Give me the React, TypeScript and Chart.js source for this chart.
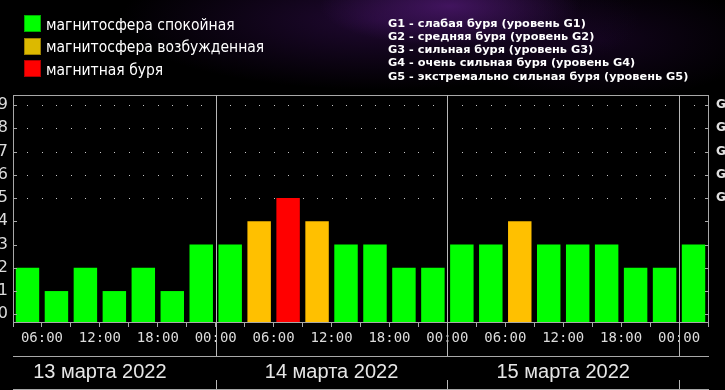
import React, { useEffect, useRef } from 'react';
import { Chart, registerables } from 'chart.js';

Chart.register(...registerables);

// ---- data ----
// Kp index per 3-hour interval, starting 13 March 2022 03:00
const KP_VALUES = [2, 1, 2, 1, 2, 1, 3, 3, 4, 5, 4, 3, 3, 2, 2, 3, 3, 4, 3, 3, 3, 2, 2, 3];
const TIME_TICK_LABELS = [
  '', '06:00', '', '12:00', '', '18:00', '', '00:00',
  '', '06:00', '', '12:00', '', '18:00', '', '00:00',
  '', '06:00', '', '12:00', '', '18:00', '', '00:00', '',
];
const DAY_LABELS = ['13 марта 2022', '14 марта 2022', '15 марта 2022'];
const DAY_CENTERS = [3, 11, 19];
const DAY_BOUNDARIES = [7, 15, 23];
const Y_TICKS = [0, 1, 2, 3, 4, 5, 6, 7, 8, 9];
const G_LEVELS = [5, 6, 7, 8, 9];
const G_AXIS_LABELS = ['G1', 'G2', 'G3', 'G4', 'G5'];
const LEGEND_LABELS = ['магнитосфера спокойная', 'магнитосфера возбужденная', 'магнитная буря'];
const LEGEND_COLORS = ['#00ff00', '#dcb900', '#ff0000'];
const LEGEND_BORDERS = ['#00b000', '#9a8000', '#b00000'];
const G_DESCRIPTIONS = [
  'G1 - слабая буря (уровень G1)',
  'G2 - средняя буря (уровень G2)',
  'G3 - сильная буря (уровень G3)',
  'G4 - очень сильная буря (уровень G4)',
  'G5 - экстремально сильная буря (уровень G5)',
];
const COLOR_QUIET = '#00ff00';
const COLOR_ACTIVE = '#ffc000';
const COLOR_STORM = '#ff0000';

const Y_MIN = -0.33;
const Y_MAX = 9.43;
const X_MIN = 0;
const X_MAX = 24;

const LINE = '#a8a8a8';
// the picture is a crop of a wider chart: the canvas overhangs the view on both sides
const CROP = 20;
const CANVAS_W = 725 + 2 * CROP;
const CANVAS_H = 390;

const barColor = (v: number) => (v >= 5 ? COLOR_STORM : v === 4 ? COLOR_ACTIVE : COLOR_QUIET);

const framePlugin = {
  id: 'frame',
  beforeDatasetsDraw(chart: any) {
    const { ctx, scales } = chart;
    const x = scales.x;
    const y = scales.y;
    ctx.save();
    ctx.fillStyle = '#c8c8c8';
    for (const lv of G_LEVELS) {
      const py = Math.round(y.getPixelForValue(lv));
      for (let k = 1; k < X_MAX * 2; k++) {
        const v = k / 2;
        if (DAY_BOUNDARIES.includes(v)) continue;
        ctx.fillRect(Math.round(x.getPixelForValue(v)), py, 1, 1);
      }
    }
    ctx.restore();
  },
  afterDraw(chart: any) {
    const { ctx, chartArea: a, scales } = chart;
    const x = scales.x;
    const y = scales.y;
    const c = (v: number) => Math.round(v) + 0.5;
    ctx.save();
    ctx.strokeStyle = LINE;
    ctx.lineWidth = 1;
    const hline = (x1: number, x2: number, yy: number) => {
      ctx.beginPath();
      ctx.moveTo(Math.round(x1), c(yy));
      ctx.lineTo(Math.round(x2) + 1, c(yy));
      ctx.stroke();
    };
    const vline = (xx: number, y1: number, y2: number) => {
      ctx.beginPath();
      ctx.moveTo(c(xx), Math.round(y1));
      ctx.lineTo(c(xx), Math.round(y2));
      ctx.stroke();
    };
    // plot frame
    hline(a.left, a.right, a.top);
    hline(a.left, a.right, a.bottom);
    vline(a.left, a.top, a.bottom + 1);
    vline(a.right, a.top, a.bottom + 4);
    // y tick marks (inside)
    for (const v of Y_TICKS) {
      const py = y.getPixelForValue(v);
      hline(a.left, a.left + 3, py);
      hline(a.right - 3, a.right, py);
    }
    // day separators
    const rowTop = 356;
    const rowBottom = 389;
    ctx.strokeStyle = '#b8b8b8';
    for (const b of DAY_BOUNDARIES) {
      const px = x.getPixelForValue(b);
      vline(px, a.top, rowTop);
      vline(px, 380, 390);
    }
    ctx.strokeStyle = LINE;
    hline(a.left, a.right, rowTop);
    hline(a.left, a.right, rowBottom);
    // date labels
    ctx.fillStyle = '#e6e6e6';
    ctx.font = '20px "Liberation Sans"';
    ctx.textAlign = 'center';
    ctx.textBaseline = 'alphabetic';
    DAY_LABELS.forEach((lbl, i) => {
      ctx.fillText(lbl, x.getPixelForValue(DAY_CENTERS[i]), 378);
    });
    // legend (left)
    ctx.textAlign = 'left';
    const rowsTop = [15, 38, 60];
    const rowsBase = [29.5, 52, 74.5];
    LEGEND_LABELS.forEach((lbl, i) => {
      ctx.fillStyle = LEGEND_COLORS[i];
      ctx.fillRect(CROP + 24, rowsTop[i], 17, 17);
      ctx.strokeStyle = LEGEND_BORDERS[i];
      ctx.lineWidth = 1;
      ctx.strokeRect(CROP + 24.5, rowsTop[i] + 0.5, 16, 16);
      ctx.fillStyle = '#ffffff';
      ctx.font = '15.5px "DejaVu Sans Condensed", "DejaVu Sans"';
      ctx.fillText(lbl, CROP + 46, rowsBase[i]);
    });
    // G descriptions (right)
    ctx.fillStyle = '#ffffff';
    ctx.font = 'bold 11.3px "DejaVu Sans"';
    G_DESCRIPTIONS.forEach((t, i) => {
      ctx.fillText(t, CROP + 388, 27 + 13.15 * i);
    });
    ctx.restore();
  },
};

export default function App() {
  const ref = useRef<HTMLCanvasElement | null>(null);

  useEffect(() => {
    if (!ref.current) return;
    const points = KP_VALUES.map((v, i) => ({ x: i + 0.5, y: v }));
    const chart = new Chart(ref.current, {
      type: 'bar',
      data: {
        datasets: [
          {
            data: points as any,
            backgroundColor: KP_VALUES.map(barColor),
            borderWidth: 0,
            base: Y_MIN,
            barPercentage: 0.81,
            categoryPercentage: 1,
          } as any,
        ],
      },
      options: {
        animation: false,
        responsive: false,
        maintainAspectRatio: false,
        layout: { padding: { top: 95, left: 0, right: 0, bottom: 0 } },
        plugins: { legend: { display: false }, tooltip: { enabled: false } },
        scales: {
          x: {
            type: 'linear',
            min: X_MIN,
            max: X_MAX,
            offset: false,
            position: 'bottom',
            grid: { display: true, drawOnChartArea: false, drawTicks: true, tickLength: 5, color: LINE, offset: false },
            border: { display: false },
            ticks: {
              stepSize: 1,
              autoSkip: false,
              maxRotation: 0,
              minRotation: 0,
              padding: 3,
              color: '#dcdcdc',
              font: { family: '"DejaVu Sans Mono"', size: 14 },
              callback: (v: any) => TIME_TICK_LABELS[Math.round(Number(v))] ?? '',
            },
            afterFit: (s: any) => {
              s.height = 68;
            },
          },
          y: {
            type: 'linear',
            min: Y_MIN,
            max: Y_MAX,
            position: 'left',
            grid: { display: false, drawTicks: false, tickLength: 0 },
            border: { display: false },
            ticks: {
              stepSize: 1,
              includeBounds: false,
              autoSkip: false,
              padding: 5,
              color: '#dcdcdc',
              font: { family: '"DejaVu Sans"', size: 16 },
              callback: (v: any) => (Y_TICKS.includes(Number(v)) ? String(v) : ''),
            },
            afterFit: (s: any) => {
              s.width = CROP + 13;
            },
          },
          y2: {
            type: 'linear',
            min: Y_MIN,
            max: Y_MAX,
            position: 'right',
            grid: { display: false, drawTicks: false, tickLength: 0 },
            border: { display: false },
            ticks: {
              stepSize: 1,
              includeBounds: false,
              autoSkip: false,
              padding: 8,
              color: '#e0e0e0',
              font: { family: '"DejaVu Sans"', size: 12, weight: 'bold' },
              callback: (v: any) => {
                const idx = G_LEVELS.indexOf(Number(v));
                return idx >= 0 ? G_AXIS_LABELS[idx] : '';
              },
            },
            afterFit: (s: any) => {
              s.width = CROP + 17;
            },
          },
        },
      } as any,
      plugins: [framePlugin],
    });
    return () => chart.destroy();
  }, []);

  return (
    <div
      style={{
        position: 'fixed',
        left: 0,
        top: 0,
        width: 725,
        height: 390,
        overflow: 'hidden',
        background: '#000',
      }}
    >
      <div
        style={{
          position: 'absolute',
          left: 0,
          top: 0,
          width: 725,
          height: 94,
          background:
            'radial-gradient(ellipse 130px 40px at 450px 6px, rgba(80,25,115,0.75), rgba(80,25,115,0) 100%),' +
            'radial-gradient(ellipse 260px 70px at 380px 20px, rgba(45,12,70,0.7), rgba(45,12,70,0) 100%),' +
            'radial-gradient(ellipse 160px 60px at 600px 40px, rgba(35,8,55,0.5), rgba(35,8,55,0) 100%),' +
            '#000',
        }}
      />
      <canvas
        ref={ref}
        width={CANVAS_W}
        height={CANVAS_H}
        style={{ position: 'absolute', left: -CROP, top: 0, width: CANVAS_W, height: CANVAS_H }}
      />
    </div>
  );
}
